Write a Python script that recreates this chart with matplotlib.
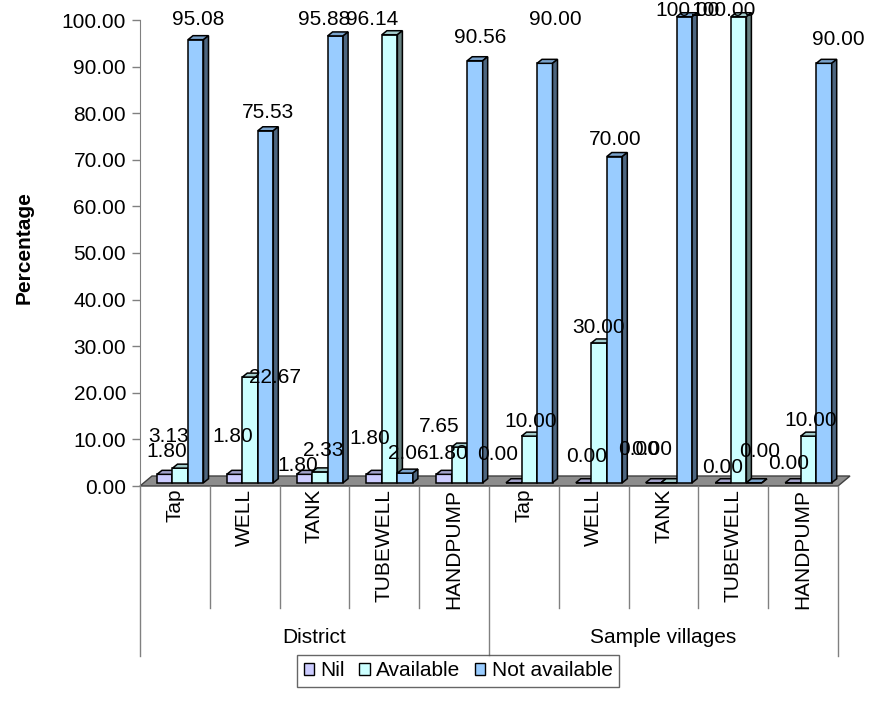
import matplotlib
matplotlib.use('Agg')
import matplotlib.pyplot as plt
import matplotlib.transforms as mtransforms
from matplotlib.patches import Polygon, Patch

plt.rcParams['font.family'] = ['Liberation Sans', 'DejaVu Sans']

# data
categories = ['Tap', 'WELL', 'TANK', 'TUBEWELL', 'HANDPUMP',
              'Tap', 'WELL', 'TANK', 'TUBEWELL', 'HANDPUMP']
groups = ['District', 'Sample villages']
series = ['Nil', 'Available', 'Not available']
nil = [1.80, 1.80, 1.80, 1.80, 1.80, 0.00, 0.00, 0.00, 0.00, 0.00]
available = [3.13, 22.67, 2.33, 96.14, 7.65, 10.00, 30.00, 0.00, 100.00, 10.00]
not_available = [95.08, 75.53, 95.88, 2.06, 90.56, 90.00, 70.00, 100.00, 0.00, 90.00]
yticks = [0, 10, 20, 30, 40, 50, 60, 70, 80, 90, 100]

# style
front = ['#CCCCFF', '#CCFFFF', '#99CCFF']
top_c = ['#a3a3cc', '#a3cccc', '#7aa3cc']
side_c = ['#666680', '#668080', '#4d6680']

# label nudges in pixels (dx right, dy up) from the bar top, as placed in the original
lbl_dx = [[2, -2, -7, -4, 4, -16, 3, -15, -1, -4],
          [-12, 25, 3, -18, -20, 1, 0, -17, -15, 2],
          [2, 2, -11, 3, 5, 11, 1, 3, 5, 14]]
lbl_dy = [[23, 38, 9, 36, 21, 28, 26, 33, 15, 19],
          [32, 0, 21, 15, 21, 15, 15, 33, 6, 16],
          [20, 18, 16, 20, 23, 44, 17, 6, 31, 24]]

fig = plt.figure(figsize=(8.7, 7.02), dpi=100)
ax = fig.add_axes([140 / 870, 216 / 702, 698 / 870, 466 / 702])
ax.set_xlim(-0.5, 9.5)
ax.set_ylim(0, 100)

px_x = 1 / 69.8
px_y = 100 / 466
w = 15.5 * px_x
ddx, ddy = 5 * px_x, 4 * px_y
base = 0.7

# floor
fdx, fdy = 12 * px_x, 10 * px_y
floor = Polygon([(-0.5, 0), (9.5, 0), (9.5 + fdx, fdy), (-0.5 + fdx, fdy)],
                closed=True, facecolor='#8c8c8c', edgecolor='#404040',
                linewidth=1, zorder=1, clip_on=False)
ax.add_patch(floor)

for k, vals in enumerate([nil, available, not_available]):
    xs = [i - 0.5 + (17 + 15.5 * k) * px_x for i in range(len(vals))]
    z = 2 + k
    ax.bar(xs, vals, width=w, bottom=base, align='edge', color=front[k],
           edgecolor='black', linewidth=1.1, zorder=z, clip_on=False)
    for i, (xl, v) in enumerate(zip(xs, vals)):
        t = base + v
        ax.add_patch(Polygon([(xl, t), (xl + w, t), (xl + w + ddx, t + ddy), (xl + ddx, t + ddy)],
                             closed=True, facecolor=top_c[k], edgecolor='black',
                             linewidth=1.1, zorder=z, clip_on=False))
        ax.add_patch(Polygon([(xl + w, base), (xl + w + ddx, base + ddy), (xl + w + ddx, t + ddy), (xl + w, t)],
                             closed=True, facecolor=side_c[k], edgecolor='black',
                             linewidth=1.1, zorder=z, clip_on=False))
        ax.annotate('%.2f' % v, xy=(xl + w / 2, t), xytext=(lbl_dx[k][i] * 0.72, lbl_dy[k][i] * 0.72),
                    textcoords='offset points', ha='center', va='center',
                    fontsize=15, zorder=10, annotation_clip=False)

# axes styling
for s in ['top', 'right', 'bottom']:
    ax.spines[s].set_visible(False)
ax.spines['left'].set_color('#808080')
ax.set_yticks(yticks)
ax.set_yticklabels(['%.2f' % v for v in yticks], fontsize=15)
ax.tick_params(axis='y', colors='#808080', labelcolor='black', length=6, width=1, pad=4)
ax.set_xticks(range(len(categories)))
ax.set_xticklabels(categories, rotation=90, fontsize=15)
ax.tick_params(axis='x', length=0, pad=2)

# category table lines
trans = mtransforms.blended_transform_factory(ax.transData, ax.transAxes)
for b in range(len(categories) + 1):
    x = b - 0.5
    bottom = -0.3648 if b % 5 == 0 else -0.2618
    ax.plot([x, x], [0, bottom], transform=trans, color='#808080', lw=1, clip_on=False)
for g, name in enumerate(groups):
    ax.text(2 + 5 * g, -0.326, name, transform=trans, ha='center', va='center', fontsize=15)

fig.text(24 / 870, 1 - 248 / 702, 'Percentage', rotation=90, ha='center', va='center',
         fontsize=15, fontweight='bold')

handles = [Patch(facecolor=front[k], edgecolor='black', label=series[k]) for k in range(3)]
leg = fig.legend(handles=handles, loc='center', bbox_to_anchor=(458 / 870, 1 - 671 / 702),
                 ncol=3, fontsize=15, frameon=True, fancybox=False, handlelength=0.5,
                 handleheight=0.5, handletextpad=0.3, columnspacing=0.7, borderpad=0.3)
leg.get_frame().set_edgecolor('#404040')
leg.get_frame().set_linewidth(1)

fig.savefig('out.png', dpi=100)
